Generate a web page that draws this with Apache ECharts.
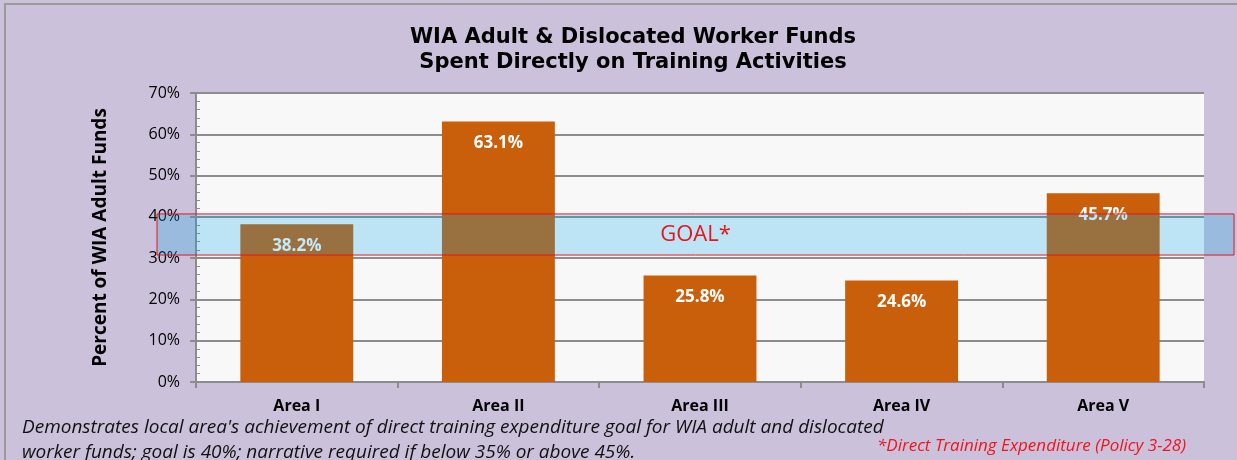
<!DOCTYPE html>
<html>
<head>
<meta charset="utf-8">
<script src="https://cdn.jsdelivr.net/npm/echarts@6/dist/echarts.min.js"></script>
<style>
  html, body { margin: 0; padding: 0; background: #CBC1DB; }
  #chart { width: 1237px; height: 460px; }
</style>
</head>
<body>
<div id="chart"></div>
<script>
const areas = ['Area I', 'Area II', 'Area III', 'Area IV', 'Area V']
const spentPct = [38.2, 63.1, 25.8, 24.6, 45.7]
const yTicks = [0, 10, 20, 30, 40, 50, 60, 70]
const goalBand = [30.75, 40.7]   // shaded goal range, percent

const chart = echarts.init(document.getElementById('chart'))

const axisGray = '#8C8C8C'
const option = {
  backgroundColor: '#CBC1DB',
  textStyle: { fontFamily: 'Open Sans' },
  title: {
    text: 'WIA Adult & Dislocated Worker Funds\nSpent Directly on Training Activities',
    left: 628,
    textAlign: 'center',
    top: 20,
    textStyle: { fontFamily: 'DejaVu Sans', fontSize: 21, fontWeight: 'bold', color: '#000', lineHeight: 25 }
  },
  grid: { left: 196, right: 33, top: 93, bottom: 78, show: true, backgroundColor: '#F8F8F8', borderWidth: 0 },
  xAxis: {
    type: 'category',
    data: areas,
    axisLine: { lineStyle: { color: axisGray, width: 2 } },
    axisTick: { show: true, length: 6, lineStyle: { color: axisGray, width: 2 } },
    axisLabel: { margin: 16, fontSize: 16, fontWeight: 'bold', color: '#000' }
  },
  yAxis: [{
    type: 'value',
    min: yTicks[0],
    max: yTicks[yTicks.length - 1],
    interval: 10,
    name: 'Percent of WIA Adult Funds',
    nameLocation: 'middle',
    nameGap: 86,
    nameTextStyle: { fontSize: 19, fontWeight: 'bold', color: '#000' },
    axisLine: { show: true, lineStyle: { color: axisGray, width: 2 } },
    axisTick: { show: true, length: 6, lineStyle: { color: axisGray, width: 2 } },
    axisLabel: { margin: 16, fontSize: 16, color: '#000', formatter: '{value}%' },
    splitLine: { lineStyle: { color: axisGray, width: 2 } }
  }, {
    // minor ticks pointing into the plot
    type: 'value',
    position: 'left',
    min: yTicks[0],
    max: yTicks[yTicks.length - 1],
    interval: 2,
    axisLine: { show: false },
    axisTick: { show: true, inside: true, length: 4, lineStyle: { color: axisGray, width: 1 } },
    axisLabel: { show: false },
    splitLine: { show: false }
  }],
  series: [{
    type: 'bar',
    data: spentPct,
    barWidth: '56%',
    itemStyle: { color: '#C95F0A' },
    label: {
      show: true,
      position: 'insideTop',
      distance: 13,
      color: '#fff',
      fontSize: 17,
      fontWeight: 'bold',
      formatter: p => p.value.toFixed(1) + '%'
    }
  }]
}
chart.setOption(option)

// goal band sits over the bars and runs past both grid edges
const yTop = chart.convertToPixel({ yAxisIndex: 0 }, goalBand[1])
const yBot = chart.convertToPixel({ yAxisIndex: 0 }, goalBand[0])
const bandLeft = 157, bandRight = 1234
chart.setOption({
  graphic: [
    {
      type: 'rect', z: 100, silent: true,
      shape: { x: 5, y: 4, width: 1250, height: 470 },
      style: { fill: 'none', stroke: '#9A9A9A', lineWidth: 2 }
    },
    {
      type: 'rect', z: 50,
      shape: { x: bandLeft, y: yTop, width: bandRight - bandLeft, height: yBot - yTop },
      style: { fill: 'rgba(0,168,236,0.24)', stroke: '#E8141C', lineWidth: 1 }
    },
    {
      type: 'text', z: 51,
      x: (bandLeft + bandRight) / 2, y: (yTop + yBot) / 2,
      style: { text: 'GOAL*', fill: '#E8141C', fontSize: 22, fontFamily: 'Open Sans', align: 'center', verticalAlign: 'middle' }
    },
    {
      type: 'text', z: 51, left: 22, top: 415,
      style: {
        text: "Demonstrates local area's achievement of direct training expenditure goal for WIA adult and dislocated\nworker funds; goal is 40%; narrative required if below 35% or above 45%.",
        fill: '#111', fontSize: 19, fontStyle: 'italic', lineHeight: 25, fontFamily: 'Open Sans'
      }
    },
    {
      type: 'text', z: 51, left: 877, top: 438,
      style: { text: '*Direct Training Expenditure (Policy 3-28)', fill: '#F0141C', fontSize: 17, fontStyle: 'italic', fontFamily: 'Open Sans' }
    }
  ]
})
</script>
</body>
</html>
